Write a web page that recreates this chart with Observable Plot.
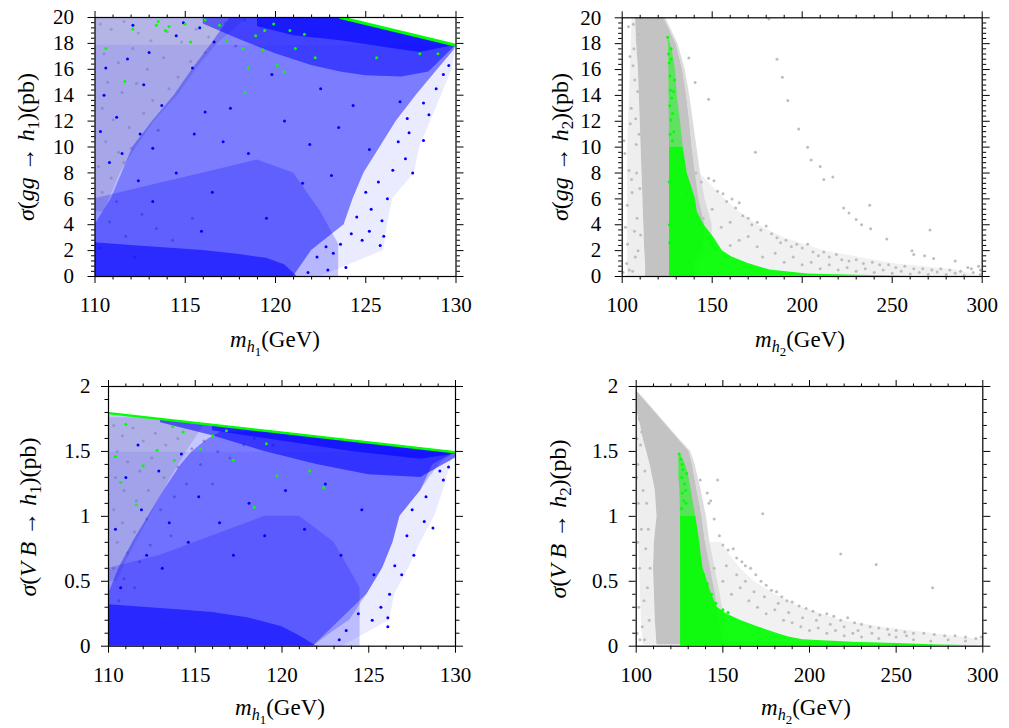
<!DOCTYPE html>
<html><head><meta charset="utf-8">
<script src="https://cdn.jsdelivr.net/npm/d3@7"></script>
<script src="https://cdn.jsdelivr.net/npm/@observablehq/plot@0.6"></script>
<style>
body{margin:0;background:#fff;}
#wrap{position:relative;width:1009px;height:728px;overflow:hidden;font-family:"Liberation Serif","Tinos","Times New Roman","Nimbus Roman","FreeSerif","Noto Serif","DejaVu Serif",serif;background:#fff;}
.pan{position:absolute;}
.yt,.xt{position:absolute;white-space:nowrap;font-size:23px;color:#000;line-height:1;}
.yt{transform:translate(-50%,-50%) rotate(-90deg);font-size:24px;}
.xt{transform:translate(-50%,-50%);}
sub{font-size:0.7em;vertical-align:-0.28em;line-height:0;}
sub sub{font-size:0.8em;}
</style></head><body>
<div id="wrap">
  <div id="p1" class="pan" style="left:0;top:0"></div>
  <div id="p2" class="pan" style="left:505px;top:0"></div>
  <div id="p3" class="pan" style="left:0;top:364px"></div>
  <div id="p4" class="pan" style="left:505px;top:364px"></div>
  <div class="yt" style="left:26px;top:147px"><i>σ</i>(<i>gg</i> → <i>h</i><sub>1</sub>)(pb)</div>
  <div class="yt" style="left:560px;top:147px"><i>σ</i>(<i>gg</i> → <i>h</i><sub>2</sub>)(pb)</div>
  <div class="yt" style="left:28px;top:517px"><i>σ</i>(<i>V B</i> → <i>h</i><sub>1</sub>)(pb)</div>
  <div class="yt" style="left:558px;top:519px"><i>σ</i>(<i>V B</i> → <i>h</i><sub>2</sub>)(pb)</div>
  <div class="xt" style="left:275px;top:340px"><i>m</i><sub><i>h</i><sub>1</sub></sub>(GeV)</div>
  <div class="xt" style="left:800px;top:340px"><i>m</i><sub><i>h</i><sub>2</sub></sub>(GeV)</div>
  <div class="xt" style="left:280px;top:708px"><i>m</i><sub><i>h</i><sub>1</sub></sub>(GeV)</div>
  <div class="xt" style="left:806px;top:708px"><i>m</i><sub><i>h</i><sub>2</sub></sub>(GeV)</div>
</div>
<script>
// ---------- tick labels ----------
const xTicksH1 = [110, 115, 120, 125, 130];
const xTicksH2 = [100, 150, 200, 250, 300];
const yTicksGG = [0, 2, 4, 6, 8, 10, 12, 14, 16, 18, 20];
const yTicksVB = [0, 0.5, 1, 1.5, 2];

// ---------- colours ----------
const GRAY = "#bebebe", BLUE = "#0000ff", GREEN = "#00ff00";
const GRAY_CORE = "#c3c3c3", GRAY_FRINGE = "#dcdcdc", GRAY_SPRAY = "#eeeeee", GRAY_TAIL = "#f1f1f1";

// ================= Panel 1 : sigma(gg -> h1) vs m_h1 =================
const p1EnvX = [123.6, 130];
const p1EnvY = [20, 17.85];
const p1BlueY = [0, 2, 4, 6, 8, 10, 12, 14, 16, 17.5, 17.85, 20];
const p1BlueL = [110, 110, 110, 110, 110, 110, 110, 110, 110, 110, 110, 110];
const p1BlueR = [121, 122, 123.8, 124.3, 124.9, 125.8, 126.7, 127.8, 129, 129.9, 130, 123.6];
const p1MidL = [110, 110, 110, 110.9, 111.5, 112.1, 113.2, 114.4, 115.4, 116.2, 116.4, 117.5];
const p1FringeY = [0, 2, 4, 6, 8, 10, 12, 14, 16, 17.85];
const p1FringeR = [122.5, 126, 126.2, 126.5, 127.7, 128, 128.6, 129.2, 129.8, 130];
const p1LowX = [110, 113, 116, 119, 121, 122.5, 123.5];
const p1LowHi = [6, 7, 8, 9, 8, 5, 2.5];
const p1TopX = [116, 118, 120, 122, 123.6, 125, 127, 128.5, 130];
const p1TopLo = [19.5, 18.3, 17.2, 16.3, 15.8, 15.5, 15.4, 15.8, 17.85];
const p1TopHi = [20, 20, 20, 20, 20, 19.53, 18.86, 18.35, 17.85];
const p1CoreX = [119, 121, 123.6, 126, 128, 130];
const p1CoreLo = [19.3, 18.6, 18.2, 17.7, 17.3, 17.85];
const p1CoreHi = [20, 20, 20, 19.2, 18.5, 17.85];
const p1BotX = [110, 112, 114, 116, 118, 119.5, 120.5, 121.2];
const p1BotHi = [2.6, 2.4, 2.2, 2.0, 1.7, 1.4, 0.9, 0];
const p1GrayY = [5, 8, 10, 12, 14, 16, 18, 20];
const p1GrayR = [110.5, 111.4, 112.3, 113.3, 114.6, 115.6, 116.8, 118.5];
const p1GrayDotX = [110.3,110.9,111.6,112.4,113.1,114,114.8,115.6,116.3,117.2,110.5,111.3,112.1,112.9,113.8,114.6,115.3,116.1,110.7,111.5,112.3,113.2,114.1,110.4,111,111.9,112.7,113.5,110.6,111.3,112,110.2,110.9,111.6,110.4,111.2,110.8,111.7,112.6,113.4,110.3,112.2,114.3,115.4,118.3,119.2,117.8];
const p1GrayDotY = [19.5,19.1,19.7,18.8,18.2,18.9,18.1,19.1,18.5,19.6,17.2,16.5,17.6,16,16.9,15.4,16.6,17.3,15,14.2,14.9,13.6,14.5,13,12.1,11.5,12.6,11.3,10.4,9.6,9.9,8.5,7.6,8.8,6.5,5.8,4.2,3.1,4.8,3.7,2.2,1.5,2.8,4.5,19.8,19.4,17.8];
const p1BlueDotX = [122.3,122.8,123.2,123.6,124.2,124.8,125.2,125.8,126,124.5,125.3,125.9,125,125.7,126.2,126.5,127.2,127.6,126.8,127.4,128.2,128.5,128.2,128.9,129.3,129.6,127.3,126.9,123.9,122.9,121.8,110.5,111.2,111.8,112.5,113,113.7,114.5,110.8,111.5,112.7,113.2,115.4,116.1,110.3,110.6,112.1,114.9,115.8,116.6,114.5,115.5,116.5,117.5,118.5,119.5,120.5,121.5,122.5,123.5,124.3,125.2,113.2,112.4,115.9,117.1,119.8,121.9,123.1];
const p1BlueDotY = [1.5,2.3,1.8,2.5,3.3,2.8,3.5,2.4,3.1,4.6,5.2,4.3,6.5,7.3,6,8.2,9.1,8,10.4,11.1,10.5,12.5,13.4,14.5,15.6,16.3,12.2,13.5,0.7,0.5,0.3,14,12.3,16.8,11,17.3,13.2,18.6,8.8,9.5,14.8,9.9,16.1,12.7,11.2,16.1,19.4,19.6,19.2,18.1,8,11,6.5,13,9.5,4.5,12,7.2,14.5,11.5,13.2,9.8,5.8,7.4,3.5,10.4,15.6,10.2,7.8];
const p1GreenDotX = [113.4,113.9,113.5,114.1,115,115.3,110.6,111.65,112.1,116.1,116.9,117.3,118.2,118.3,118.9,119.3,118.5,119.9,120.1,120.5,121.1,121.6,122.2,120.8,119.4,128,129,125.6];
const p1GreenDotY = [19.4,19,19.7,19.3,19.5,18.1,17.6,15.06,19.1,19.8,19.4,18.2,17.6,14.2,18.6,17.5,16.1,19.5,16.3,15.8,17.6,18.7,16.9,19,19,17.2,17.2,16.9];

// ================= Panel 2 : sigma(gg -> h2) vs m_h2 =================
const p2CoreY   = [0, 1, 2, 4, 6, 8, 10, 12, 14, 16, 18, 20];
const p2SprayL  = [103, 103, 103, 103, 103, 103, 103, 103.5, 104, 104.5, 105, 105.5];
const p2CoreL   = [113, 113, 112.5, 112, 111.5, 111, 110.5, 110, 109.5, 109, 108, 107.4];
const p2CoreR   = [140, 140, 145, 146, 142.6, 140.7, 138.9, 137.5, 135.8, 133.6, 129.9, 123.1];
const p2FringeR = [143, 143, 150, 150, 146, 143.5, 141.5, 139.5, 137.5, 135, 131, 124];
const p2TailY = [0, 0.5, 1, 2, 3, 4, 5, 6, 7, 8];
const p2TailL = [130, 130, 130, 130, 130, 130, 130, 130, 130, 130];
const p2TailR = [300, 285, 250, 212, 190, 175, 165, 157, 150, 143];
const p2GreenY = [0.02, 0.1, 0.2, 0.5, 1, 1.5, 2, 3, 4, 5, 6, 8, 10];
const p2GreenL = [126.3, 126.3, 126.3, 126.3, 126.3, 126.3, 126.3, 126.3, 126.3, 126.3, 126.3, 126.3, 126.3];
const p2GreenR = [262, 230, 203, 182, 170, 161, 155.6, 151, 145.4, 141.7, 140.7, 136.1, 133.9];
const p2GreenTopY = [10, 12, 14, 16, 17.5, 18.5];
const p2GreenTopL = [126.3, 126.2, 126, 125.9, 125.8, 125.5];
const p2GreenTopR = [133.9, 132.4, 130.6, 129.6, 127.8, 125.8];
const p2LeftDotX = [101.5,101,102.5,103,104,105,104.5,105.5,106,106.5,107,107.5,108,108.3,106.8,107.3,105.2,104.3,103.5,106.2,109,108.6,109.4,109.8,110.2,100.5,101.8,102.8,103.8,107.8,108.8,105.8];
const p2LeftDotY = [9.5,10.5,1,2.5,0.5,13,11.8,6.5,16.3,17.6,15.2,12.2,8,4.5,3.5,1.5,7.5,17,19.3,19.5,18.7,14.3,11,6.8,3.2,0.3,3.8,5.5,8.2,10.2,2,0.4];
const p2OutDotX = [137,140.5,148,186,189,192,198,203,205,210,212,217,174,181.5,223,226,230,233,237.5,238,247,261,262,268,271,273,285,292,298];
const p2OutDotY = [16.9,15,13.7,16.8,15.4,13.6,11.4,10,9,8.5,7.5,7.7,9.6,19.9,5.3,4.9,4.4,4,5.5,3.7,2.9,2,1.7,1.6,3.6,1.4,1.2,0.7,0.8];
const p2TailDotX = [141,144,148,151,153,156,158,161,163,165,167,170,172,175,177,180,183,186,188,191,194,197,200,203,206,209,212,215,219,222,226,230,234,239,243,248,252,257,262,267,272,277,282,288,294,299,145,150,155,160,165,170,175,185,195,205,215,225,235,245,255,265,275,285,295,160,178,190,200,210,220,230,240,250,260,270,280,290,299];
const p2TailDotY = [8,7.3,7.6,7.4,6.6,6.4,5.8,6,5.3,5.7,4.7,4.5,4,4.2,3.6,3.9,3.3,3,2.6,2.8,2.3,2.5,2.2,2.5,1.9,1.6,1.9,1.5,1.7,1.3,1.2,1.3,1,1.1,0.9,0.9,0.7,0.8,0.6,0.6,0.5,0.6,0.5,0.4,0.6,0.5,4.5,5.2,3.8,4.2,2.8,3.1,2.3,1.8,1.5,1.1,0.9,0.7,0.6,0.5,0.4,0.3,0.35,0.25,0.3,2.4,1.5,1.1,0.9,0.6,0.5,0.4,0.3,0.25,0.2,0.15,0.15,0.1,0.15];
const p2GreenDotX = [125.3,125.8,126.2,126.5,127.2,126.8,127.5,126.4,128,127.1,128.6,126.6,127.9,129.1,128.5,126.1,126.2,126.3,127.2,136,139,141,143.5,147.5,150,152];
const p2GreenDotY = [18.5,17.2,16.5,15.5,16.8,14.4,13.8,13.2,12.6,12.1,11.2,11,10.5,15.2,14.3,7.3,4,2.6,17.6,6.4,5.5,4.6,4,3,2.5,2.2];

// ================= Panel 3 : sigma(VB -> h1) vs m_h1 =================
const p3EnvX = [110, 130];
const p3EnvY = [1.795, 1.494];
const p3BlueX = [110, 112, 114, 116, 118, 120, 121.8, 122.8, 123.9, 124.9, 125.8, 126.4, 126.8, 127.4, 128, 128.5, 129.2, 130];
const p3BlueLo = [0, 0, 0, 0, 0, 0, 0, 0.1, 0.2, 0.4, 0.6, 0.8, 1.0, 1.1, 1.2, 1.3, 1.42, 1.494];
const p3BlueHi = [1.795, 1.765, 1.735, 1.705, 1.675, 1.645, 1.617, 1.602, 1.585, 1.570, 1.556, 1.547, 1.541, 1.532, 1.524, 1.516, 1.505, 1.494];
const p3MidY = [0, 0.4, 0.6, 0.8, 1.0, 1.2, 1.4, 1.494, 1.55, 1.6, 1.65];
const p3MidL = [110, 110, 110.6, 111.4, 112.3, 113.2, 114.2, 114.8, 115.3, 115.8, 116.5];
const p3MidR = [121.8, 124.9, 125.8, 126.4, 126.8, 128, 128.7, 130, 126.3, 123, 119.6];
const p3FringeY = [0, 0.2, 0.4, 0.6, 0.8, 1.0, 1.2, 1.4, 1.494];
const p3FringeR = [123.5, 126.2, 126.5, 127.3, 128, 128.8, 129.3, 129.7, 130];
const p3LowX = [110, 113, 116, 119, 121, 123, 124.5];
const p3LowHi = [0.6, 0.7, 0.85, 1.0, 1.0, 0.8, 0.45];
const p3GrayY = [0.5, 0.7, 0.9, 1.1, 1.3, 1.5, 1.7, 1.76];
const p3GrayR = [110.5, 111.2, 112, 112.8, 113.6, 114.5, 115.5, 112.3];
const p3TopX = [113, 116, 119, 122, 125, 128, 130];
const p3TopLo = [1.72, 1.62, 1.5, 1.4, 1.32, 1.3, 1.45];
const p3TopHi = [1.75, 1.705, 1.66, 1.614, 1.569, 1.524, 1.494];
const p3CoreX = [116, 120, 124, 128, 130];
const p3CoreLo = [1.66, 1.58, 1.5, 1.44, 1.48];
const p3CoreHi = [1.705, 1.645, 1.584, 1.524, 1.494];
const p3BotX = [110, 112, 114, 116, 118, 120, 121, 122];
const p3BotHi = [0.32, 0.3, 0.28, 0.26, 0.22, 0.15, 0.08, 0];
const p3GrayDotX = [110.3,110.8,111.4,112,112.7,113.3,114,114.8,115.5,116.3,110.5,111.1,111.8,112.5,113.2,114,110.4,110.9,111.6,112.3,113,113.8,110.3,110.8,111.5,112.2,110.5,111.1,111.8,110.3,110.9,111.5,110.6,112.4,114.5,115.3,117,117.8,113.6,116,118.4,119.5];
const p3GrayDotY = [1.7,1.62,1.68,1.58,1.64,1.55,1.6,1.52,1.58,1.5,1.5,1.42,1.35,1.45,1.3,1.38,1.3,1.2,1.12,1.2,1.05,1.15,1.05,0.95,0.88,0.98,0.8,0.72,0.65,0.6,0.52,0.45,0.35,0.78,1.25,1.4,1.45,1.55,0.85,1.25,1.6,1.55];
const p3BlueDotX = [127.5,128.2,128.7,127.2,127.6,126.5,126.9,126.2,125.7,126.1,126.1,125.2,124.4,123.7,123.3,129.6,129.1,128.3,129.3,110.4,111,111.7,112.2,112.9,113.5,114.2,110.7,111.9,113.1,114.6,115.2,116.4,117.2,118.1,119,120.2,121.3,122.5,123.4,124.6,125.3];
const p3BlueDotY = [1.05,0.96,0.91,0.85,0.7,0.62,0.55,0.4,0.3,0.22,0.15,0.2,0.25,0.12,0.05,1.38,1.35,1.15,1.28,0.9,1.3,1.55,0.7,1.35,0.95,1.48,0.45,1.05,0.6,0.8,1.15,0.95,0.7,1.1,0.85,1.2,0.9,1.25,0.7,1.05,0.55];
const p3GreenDotX = [110.4,110.7,111.6,111,112,112.8,113.8,114.3,115.3,116,117.2,118.4,119.7,121.6,122.4,113.7,116.8,119.1];
const p3GreenDotY = [1.46,1.26,1.09,1.71,1.39,1.51,1.43,1.65,1.52,1.62,1.43,1.07,1.31,1.35,1.22,1.69,1.66,1.56];

// ================= Panel 4 : sigma(VB -> h2) vs m_h2 =================
const p4CoreY   = [0.01, 0.2, 0.4, 0.6, 0.8, 1.0, 1.2, 1.4, 1.5, 1.6, 1.7, 1.8, 1.9, 1.97];
const p4SprayL  = [104, 103, 102.5, 102, 101.5, 101, 100.5, 100, 100, 100, 100, 100, 100, 100];
const p4CoreL   = [112, 111, 110.5, 110, 110.5, 112, 111, 108, 106, 104, 102.5, 100.6, 100.2, 100];
const p4CoreR   = [151, 148, 145.8, 142.9, 140, 138, 135.2, 132.5, 130.5, 124, 117.5, 111, 104.5, 100];
const p4FringeR = [154, 151, 148.5, 145.5, 142.5, 140.5, 137.5, 134, 131.5, 124.5, 118, 111.5, 105, 100];
const p4TailY = [0, 0.05, 0.1, 0.15, 0.2, 0.3, 0.4, 0.5, 0.6, 0.7, 0.8];
const p4TailL = [130, 130, 130, 130, 130, 130, 130, 130, 130, 130, 130];
const p4TailR = [300, 300, 270, 240, 218, 195, 180, 168, 160, 154, 149];
const p4GreenY = [0.004, 0.01, 0.02, 0.03, 0.05, 0.07, 0.1, 0.15, 0.2, 0.25, 0.3, 0.4, 0.5, 0.6, 0.7, 0.8, 1.0];
const p4GreenL = [125.6, 125.6, 125.6, 125.6, 125.6, 125.6, 125.6, 125.6, 125.6, 125.6, 125.6, 125.6, 125.6, 125.6, 125.6, 125.6, 125.6];
const p4GreenR = [300, 275, 250, 225, 196, 188, 181, 170, 160, 152, 146.7, 143.5, 141, 138.6, 137.5, 136.7, 134.4];
const p4GreenTopY = [1.0, 1.1, 1.2, 1.3, 1.4, 1.48];
const p4GreenTopL = [125.6, 125.4, 125.2, 124.6, 124.6, 124.6];
const p4GreenTopR = [134.4, 133, 131.8, 130.4, 128.5, 125.5];
const p4LeftDotX = [100.5,101.5,102,103,104,101,102.5,104.5,105.5,106,103.5,106.5,107.5,105,100.8,101.2,107,108,102.2,104.8,103.2,101.8,100.4,100.3];
const p4LeftDotY = [0.1,0.3,0.6,0.9,1.2,1.4,1.55,0.35,0.75,1.1,0.15,0.45,0.2,1.35,0.8,1.1,0.9,0.6,0.05,0.05,1.65,1.75,1.6,1.3];
const p4OutDotX = [147,173,218,238.5,271,141,143,137];
const p4OutDotY = [1.28,1.02,0.71,0.63,0.45,1.18,1.12,1.28];
const p4TailDotX = [142,145,148,150,153,156,158,161,163,166,169,172,175,178,181,184,187,190,194,198,202,206,210,214,218,222,226,230,235,240,245,250,255,260,266,272,278,284,290,296,299,150,155,160,165,170,175,180,185,190,195,200,205,210,215,220,225,230,240,250,260,270,280,290,145,152,158,163,168,174,182,188,196,204,212,220,228,236,246,256];
const p4TailDotY = [1.1,0.98,0.85,0.78,0.74,0.75,0.68,0.65,0.62,0.6,0.55,0.5,0.47,0.43,0.42,0.38,0.35,0.34,0.31,0.29,0.27,0.24,0.25,0.23,0.2,0.22,0.18,0.17,0.15,0.14,0.13,0.12,0.11,0.1,0.1,0.09,0.08,0.08,0.07,0.06,0.07,0.5,0.4,0.45,0.35,0.3,0.25,0.28,0.2,0.18,0.15,0.12,0.14,0.1,0.12,0.08,0.1,0.07,0.06,0.07,0.05,0.04,0.05,0.04,0.6,0.62,0.55,0.5,0.42,0.38,0.33,0.26,0.22,0.2,0.17,0.15,0.12,0.1,0.09,0.08];
const p4GreenDotX = [124.8,125.8,126.5,127,126.3,127.8,126.6,127.5,128.5,126.2,129.2,128.8,139,141,143.5,146,150,153];
const p4GreenDotY = [1.48,1.44,1.4,1.36,1.3,1.25,1.18,1.12,1.2,1.06,1.33,1.1,0.55,0.48,0.4,0.33,0.28,0.26];

// ---------- helpers ----------
const FONT = '"Liberation Serif", "Tinos", "Times New Roman", "Nimbus Roman", "FreeSerif", "Noto Serif", "DejaVu Serif", serif';
const pts = (xs, ys) => xs.map((x, i) => ({x, y: ys[i]}));
const bandX = (ys, x1s, x2s) => ys.map((y, i) => ({y, x1: x1s[i], x2: x2s[i]}));
const bandY = (xs, y1s, y2s) => xs.map((x, i) => ({x, y1: y1s ? y1s[i] : 0, y2: y2s[i]}));
const aX = (d, color, op = 1) => Plot.areaX(d, {y: "y", x1: "x1", x2: "x2", fill: color, fillOpacity: op, clip: true});
const aY = (d, color, op = 1) => Plot.areaY(d, {x: "x", y1: "y1", y2: "y2", fill: color, fillOpacity: op, clip: true});
const dots = (d, color) => Plot.dot(d, {x: "x", y: "y", r: 1.5, fill: color, stroke: "none", clip: true});
const minors = (lo, hi, step, major) => d3.range(lo, hi + step / 2, step).map(v => +v.toFixed(4)).filter(v => !major.some(m => Math.abs(m - v) < 1e-6));
const same = (arr, v) => arr.map(() => v);

function panel(id, o) {
  const xMinor = minors(o.xd[0], o.xd[1], o.xStep, o.xMajor);
  const yMinor = minors(o.yd[0], o.yd[1], o.yStep, o.yMajor);
  const axes = [
    Plot.frame({stroke: "#000", strokeWidth: 1.2}),
    Plot.axisX(o.xMajor, {anchor: "bottom", tickSize: 0, tickPadding: o.xPad, fontSize: 21, tickFormat: d => String(d), label: null}),
    Plot.axisX(o.xMajor, {anchor: "bottom", tickSize: 7, fill: "none", label: null}),
    Plot.axisX(o.xMajor, {anchor: "top", tickSize: 7, fill: "none", label: null}),
    Plot.axisX(xMinor, {anchor: "bottom", tickSize: 3.5, fill: "none", label: null}),
    Plot.axisX(xMinor, {anchor: "top", tickSize: 3.5, fill: "none", label: null}),
    Plot.axisY(o.yMajor, {anchor: "left", tickSize: 0, tickPadding: o.yPad, fontSize: 21, tickFormat: d => String(d), label: null}),
    Plot.axisY(o.yMajor, {anchor: "left", tickSize: 7, fill: "none", label: null}),
    Plot.axisY(o.yMajor, {anchor: "right", tickSize: 7, fill: "none", label: null}),
    Plot.axisY(yMinor, {anchor: "left", tickSize: 3.5, fill: "none", label: null}),
    Plot.axisY(yMinor, {anchor: "right", tickSize: 3.5, fill: "none", label: null})
  ];
  const svg = Plot.plot({
    width: o.w, height: o.h,
    marginLeft: o.ml, marginRight: o.mr, marginTop: o.mt, marginBottom: o.mb,
    x: {domain: o.xd}, y: {domain: o.yd},
    style: {fontFamily: FONT, background: "transparent", overflow: "visible", color: "#000"},
    marks: [...o.marks, ...axes]
  });
  document.getElementById(id).appendChild(svg);
}

// ---------- Panel 1 ----------
panel("p1", {
  w: 500, h: 364, ml: 94.5, mr: 44.5, mt: 17, mb: 88,
  xd: [110, 130], yd: [0, 20], xMajor: xTicksH1, yMajor: yTicksGG, xStep: 1, yStep: 0.4, xPad: 21, yPad: 21,
  marks: [
    aX(bandX(p1GrayY, same(p1GrayY, 110), p1GrayR), GRAY, 0.45),
    dots(pts(p1GrayDotX, p1GrayDotY), GRAY),
    aX(bandX(p1FringeY, same(p1FringeY, 110), p1FringeR), BLUE, 0.08),
    aX(bandX(p1BlueY, p1BlueL, p1BlueR), BLUE, 0.2),
    aX(bandX(p1BlueY, p1MidL, p1BlueR), BLUE, 0.34),
    aY(bandY(p1LowX, null, p1LowHi), BLUE, 0.22),
    aY(bandY(p1TopX, p1TopLo, p1TopHi), BLUE, 0.5),
    aY(bandY(p1CoreX, p1CoreLo, p1CoreHi), BLUE, 0.6),
    aY(bandY(p1BotX, null, p1BotHi), BLUE, 0.55),
    dots(pts(p1BlueDotX, p1BlueDotY), BLUE),
    dots(pts(p1GreenDotX, p1GreenDotY), GREEN),
    Plot.line(pts(p1EnvX, p1EnvY), {x: "x", y: "y", stroke: GREEN, strokeWidth: 3, clip: true})
  ]
});

// ---------- Panel 2 ----------
panel("p2", {
  w: 504, h: 364, ml: 116.7, mr: 27.3, mt: 17.3, mb: 88,
  xd: [100, 300], yd: [0, 20], xMajor: xTicksH2, yMajor: yTicksGG, xStep: 10, yStep: 0.4, xPad: 21, yPad: 21,
  marks: [
    aX(bandX(p2TailY, p2TailL, p2TailR), GRAY_TAIL),
    aX(bandX(p2CoreY, p2SprayL, p2CoreL), GRAY_SPRAY),
    aX(bandX(p2CoreY, p2CoreR, p2FringeR), GRAY_FRINGE),
    aX(bandX(p2CoreY, p2CoreL, p2CoreR), GRAY_CORE),
    dots(pts(p2LeftDotX, p2LeftDotY), GRAY),
    dots(pts(p2OutDotX, p2OutDotY), GRAY),
    dots(pts(p2TailDotX, p2TailDotY), GRAY),
    aX(bandX(p2GreenY, p2GreenL, p2GreenR), GREEN, 0.92),
    aX(bandX(p2GreenTopY, p2GreenTopL, p2GreenTopR), GREEN, 0.5),
    dots(pts(p2GreenDotX, p2GreenDotY), GREEN)
  ]
});

// ---------- Panel 3 ----------
panel("p3", {
  w: 500, h: 364, ml: 108, mr: 45, mt: 22, mb: 82.3,
  xd: [110, 130], yd: [0, 2], xMajor: xTicksH1, yMajor: yTicksVB, xStep: 1, yStep: 0.1, xPad: 21, yPad: 18,
  marks: [
    aX(bandX(p3GrayY, same(p3GrayY, 110), p3GrayR), GRAY, 0.45),
    dots(pts(p3GrayDotX, p3GrayDotY), GRAY),
    aX(bandX(p3FringeY, same(p3FringeY, 110), p3FringeR), BLUE, 0.08),
    aY(bandY(p3BlueX, p3BlueLo, p3BlueHi), BLUE, 0.22),
    aX(bandX(p3MidY, p3MidL, p3MidR), BLUE, 0.38),
    aY(bandY(p3LowX, null, p3LowHi), BLUE, 0.2),
    aY(bandY(p3TopX, p3TopLo, p3TopHi), BLUE, 0.55),
    aY(bandY(p3CoreX, p3CoreLo, p3CoreHi), BLUE, 0.6),
    aY(bandY(p3BotX, null, p3BotHi), BLUE, 0.55),
    dots(pts(p3BlueDotX, p3BlueDotY), BLUE),
    dots(pts(p3GreenDotX, p3GreenDotY), GREEN),
    Plot.line(pts(p3EnvX, p3EnvY), {x: "x", y: "y", stroke: GREEN, strokeWidth: 2.5, clip: true})
  ]
});

// ---------- Panel 4 ----------
panel("p4", {
  w: 504, h: 364, ml: 130.7, mr: 26.7, mt: 22, mb: 82.3,
  xd: [100, 300], yd: [0, 2], xMajor: xTicksH2, yMajor: yTicksVB, xStep: 10, yStep: 0.1, xPad: 21, yPad: 18,
  marks: [
    aX(bandX(p4TailY, p4TailL, p4TailR), GRAY_TAIL),
    aX(bandX(p4CoreY, p4SprayL, p4CoreL), GRAY_SPRAY),
    aX(bandX(p4CoreY, p4CoreR, p4FringeR), GRAY_FRINGE),
    aX(bandX(p4CoreY, p4CoreL, p4CoreR), GRAY_CORE),
    dots(pts(p4LeftDotX, p4LeftDotY), GRAY),
    dots(pts(p4OutDotX, p4OutDotY), GRAY),
    dots(pts(p4TailDotX, p4TailDotY), GRAY),
    aX(bandX(p4GreenY, p4GreenL, p4GreenR), GREEN, 0.92),
    aX(bandX(p4GreenTopY, p4GreenTopL, p4GreenTopR), GREEN, 0.55),
    dots(pts(p4GreenDotX, p4GreenDotY), GREEN)
  ]
});
</script>
</body></html>
